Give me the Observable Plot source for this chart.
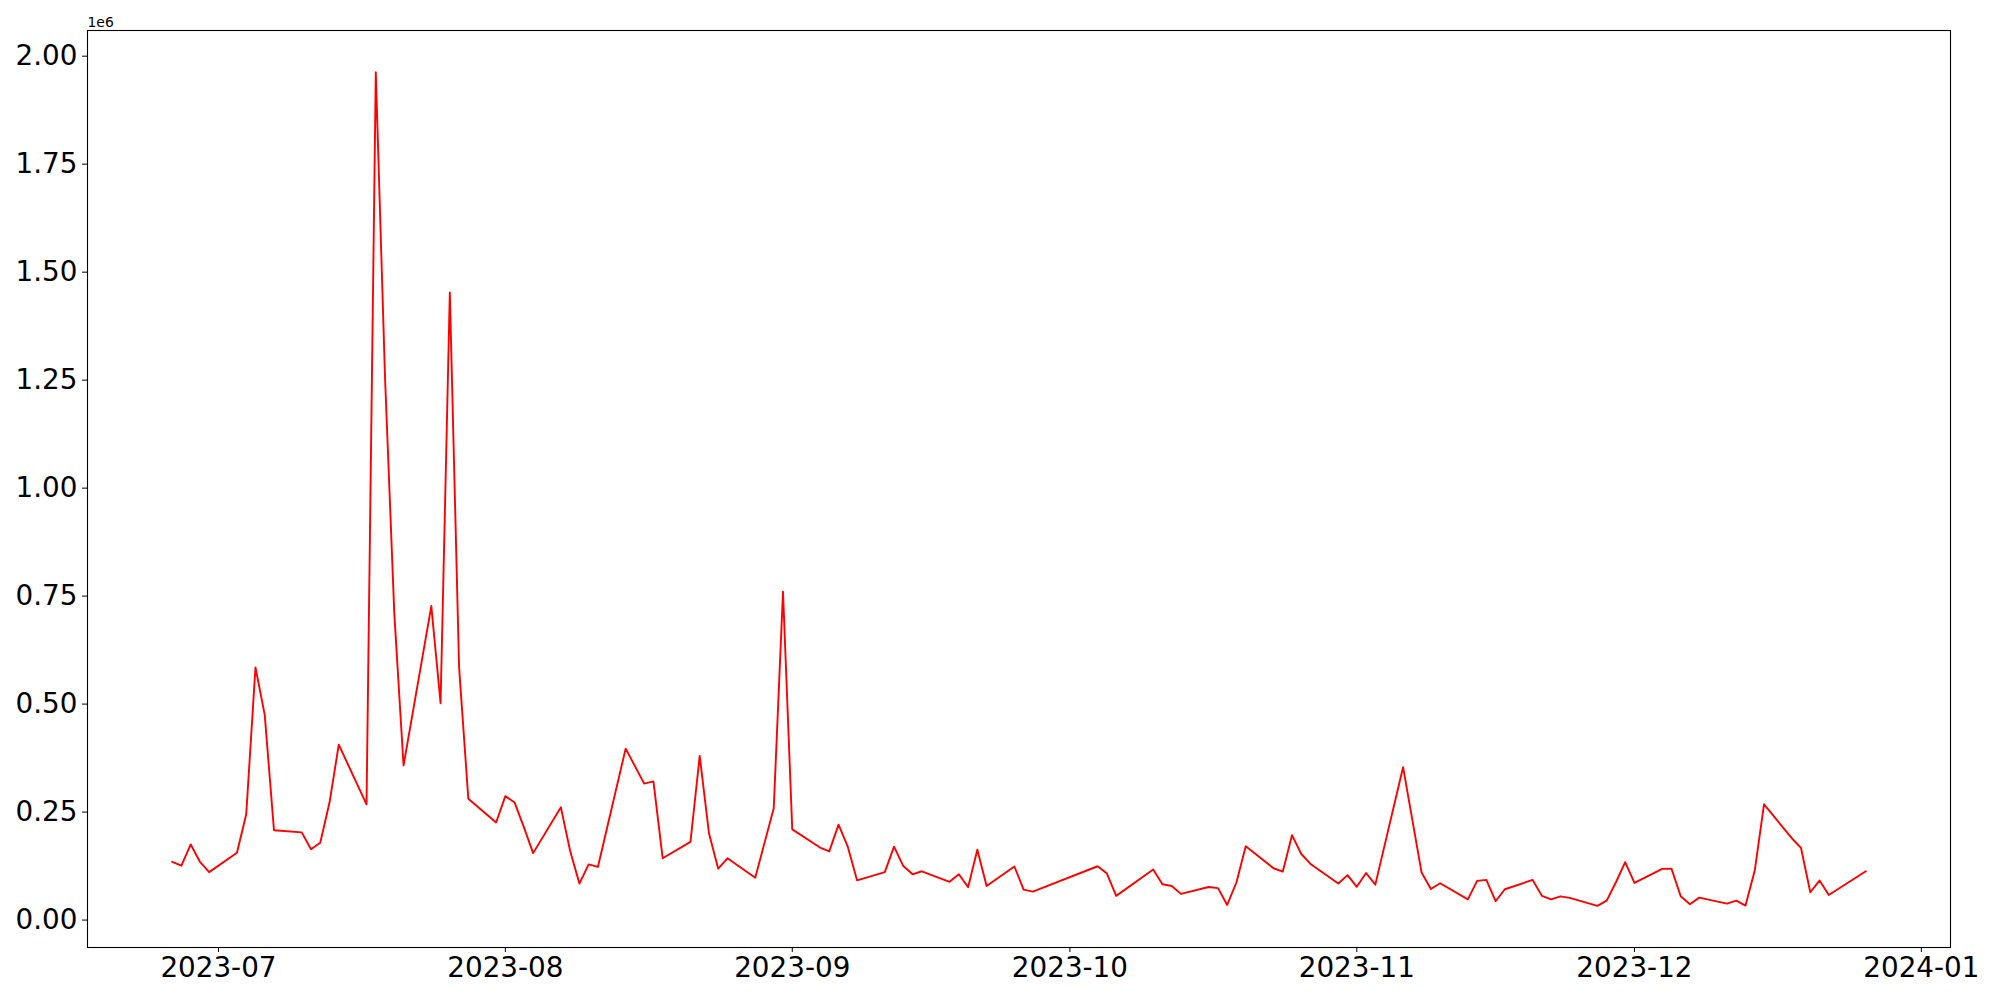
<!DOCTYPE html>
<html>
<head>
<meta charset="utf-8">
<script src="https://cdn.jsdelivr.net/npm/d3@7"></script>
<script src="https://cdn.jsdelivr.net/npm/@observablehq/plot@0.6"></script>
<style>
  html, body { margin: 0; padding: 0; background: white; }
  #chart { width: 2000px; height: 1000px; }
</style>
</head>
<body>
<div id="chart"></div>
<script>
const dates = [
  "2023-06-26","2023-06-27","2023-06-28","2023-06-29","2023-06-30",
  "2023-07-03","2023-07-04","2023-07-05","2023-07-06","2023-07-07",
  "2023-07-10","2023-07-11","2023-07-12","2023-07-13","2023-07-14",
  "2023-07-17","2023-07-18","2023-07-19","2023-07-20","2023-07-21",
  "2023-07-24","2023-07-25","2023-07-26","2023-07-27","2023-07-28",
  "2023-07-31","2023-08-01","2023-08-02","2023-08-03","2023-08-04",
  "2023-08-07","2023-08-08","2023-08-09","2023-08-10","2023-08-11",
  "2023-08-14","2023-08-16","2023-08-17","2023-08-18",
  "2023-08-21","2023-08-22","2023-08-23","2023-08-24","2023-08-25",
  "2023-08-28","2023-08-30","2023-08-31","2023-09-01",
  "2023-09-04","2023-09-05","2023-09-06","2023-09-07","2023-09-08",
  "2023-09-11","2023-09-12","2023-09-13","2023-09-14","2023-09-15",
  "2023-09-18","2023-09-19","2023-09-20","2023-09-21","2023-09-22",
  "2023-09-25","2023-09-26","2023-09-27",
  "2023-10-04","2023-10-05","2023-10-06",
  "2023-10-10","2023-10-11","2023-10-12","2023-10-13",
  "2023-10-16","2023-10-17","2023-10-18","2023-10-19","2023-10-20",
  "2023-10-23","2023-10-24","2023-10-25","2023-10-26","2023-10-27",
  "2023-10-30","2023-10-31","2023-11-01","2023-11-02","2023-11-03",
  "2023-11-06","2023-11-08","2023-11-09","2023-11-10",
  "2023-11-13","2023-11-14","2023-11-15","2023-11-16","2023-11-17",
  "2023-11-20","2023-11-21","2023-11-22","2023-11-23","2023-11-24",
  "2023-11-27","2023-11-28","2023-11-29","2023-11-30","2023-12-01",
  "2023-12-04","2023-12-05","2023-12-06","2023-12-07","2023-12-08",
  "2023-12-11","2023-12-12","2023-12-13","2023-12-14","2023-12-15",
  "2023-12-18","2023-12-19","2023-12-20","2023-12-21","2023-12-22",
  "2023-12-26"
];

const values = [
  135000, 126000, 175000, 135000, 111000,
  156000, 245000, 585000, 475000, 208000,
  203000, 164000, 179000, 272000, 406000,
  268000, 1963000, 1255000, 710000, 358000,
  727000, 502000, 1453000, 585000, 281000,
  226000, 287000, 272000, 215000, 155000,
  261000, 160000, 84500, 129000, 123000,
  397000, 316000, 321000, 143000,
  181000, 380000, 201000, 119000, 143000,
  98000, 259000, 760000, 210000,
  168000, 159000, 221000, 170000, 92000,
  111000, 170000, 125000, 106000, 113000,
  88500, 106000, 76000, 163000, 79000,
  124000, 70600, 66000,
  124600, 107700, 56000,
  117000, 83000, 79000, 60600,
  76500, 74000, 35000, 87600, 171000,
  120000, 112000, 196500, 153000, 130000,
  84500, 104000, 77000, 109000, 82000,
  354000, 110000, 72000, 85300,
  48000, 90700, 93000, 43600, 71400,
  93000, 56000, 48000, 55000, 51400,
  33000, 45000, 87600, 134000, 86000,
  118600, 119000, 55000, 36600, 52000,
  38000, 45000, 33600, 114600, 268000,
  189500, 167000, 64400, 91500, 58000,
  113000
];

const xTickLabels = ["2023-07","2023-08","2023-09","2023-10","2023-11","2023-12","2024-01"];
const yTickValues = [0, 250000, 500000, 750000, 1000000, 1250000, 1500000, 1750000, 2000000];

const data = dates.map((d, i) => ({date: new Date(d + "T00:00:00Z"), value: values[i]}));

// matplotlib-like 5% margins
const tMin = d3.min(data, d => +d.date), tMax = d3.max(data, d => +d.date);
const tPad = (tMax - tMin) * 0.05;
const vMin = d3.min(values), vMax = d3.max(values);
const vPad = (vMax - vMin) * 0.05;

const xTicks = xTickLabels.map(s => new Date(s + "-01T00:00:00Z"));

const chart = Plot.plot({
  width: 2000,
  height: 1000,
  marginLeft: 87,
  marginRight: 50,
  marginTop: 30,
  marginBottom: 53,
  style: {fontFamily: "DejaVu Sans", fontSize: "27.8px", background: "white", color: "black"},
  x: {type: "utc", domain: [new Date(tMin - tPad), new Date(tMax + tPad)]},
  y: {domain: [vMin - vPad, vMax + vPad]},
  marks: [
    Plot.line(data, {x: "date", y: "value", stroke: "red", strokeWidth: 1.9}),
    Plot.axisX({ticks: xTicks, tickFormat: d3.utcFormat("%Y-%m"), tickSize: 5, tickPadding: 5, label: null, stroke: "black"}),
    Plot.axisY({ticks: yTickValues, tickFormat: d => (d / 1e6).toFixed(2), tickSize: 5, tickPadding: 5, label: null, stroke: "black"}),
    Plot.frame({stroke: "black", strokeWidth: 1.1}),
    Plot.text(["1e6"], {frameAnchor: "top-left", textAnchor: "start", lineAnchor: "bottom", dy: -4, fontSize: 13.9, fill: "black"})
  ]
});
document.getElementById("chart").appendChild(chart);
</script>
</body>
</html>
